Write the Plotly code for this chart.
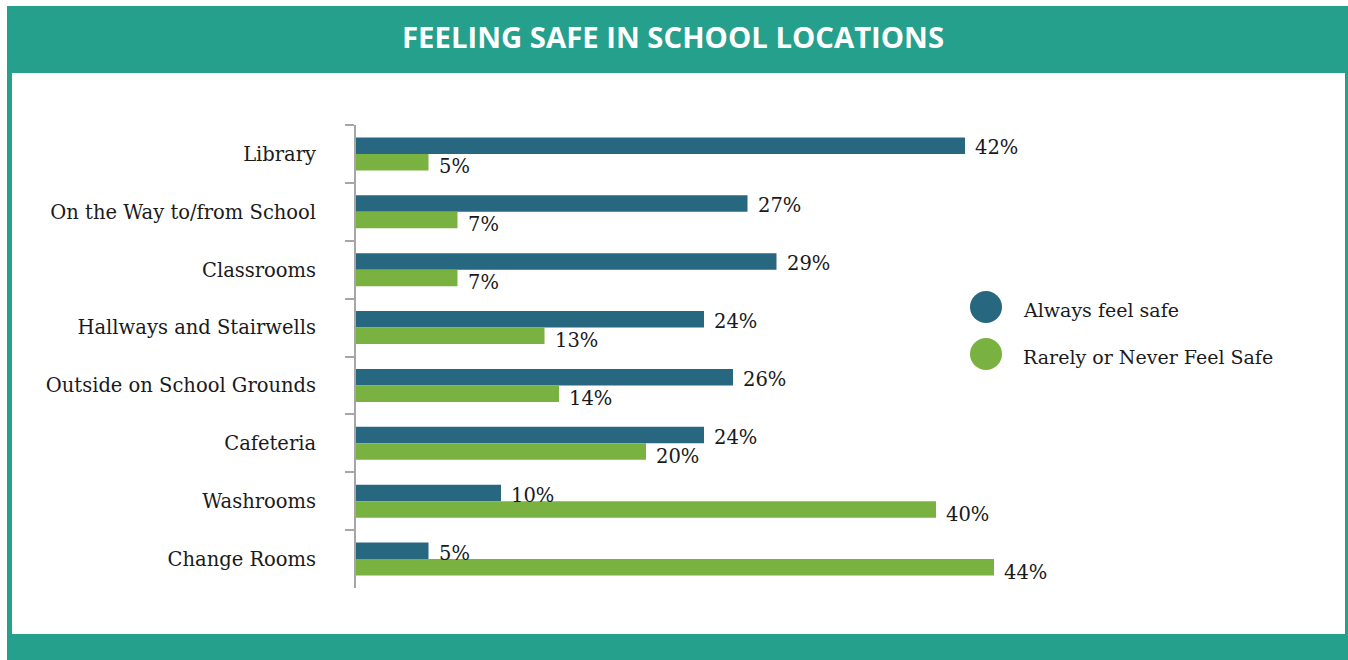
import plotly.graph_objects as go

# Survey data: share of students by how safe they feel in each location
locations = [
    "Library",
    "On the Way to/from School",
    "Classrooms",
    "Hallways and Stairwells",
    "Outside on School Grounds",
    "Cafeteria",
    "Washrooms",
    "Change Rooms",
]
always_safe = [42, 27, 29, 24, 26, 24, 10, 5]
rarely_safe = [5, 7, 7, 13, 14, 20, 40, 44]
series_names = ["Always feel safe", "Rarely or Never Feel Safe"]

TEAL = "#25A08C"
BLUE = "#276880"
GREEN = "#7AB241"
SERIF = "DejaVu Serif"
TEXT = "#1a1a1a"

W, H = 1348, 660
PLOT_L, PLOT_R, PLOT_T, PLOT_B = 356, 1226, 125, 588
X_MAX = 60


def px_x(px):
    return (px - PLOT_L) / (PLOT_R - PLOT_L)


def px_y(py):
    return (PLOT_B - py) / (PLOT_B - PLOT_T)


fig = go.Figure()
fig.add_trace(go.Bar(
    y=locations, x=always_safe, orientation="h", name=series_names[0],
    marker=dict(color=BLUE, line=dict(width=0)), showlegend=False,
    hoverinfo="x+y",
))
fig.add_trace(go.Bar(
    y=locations, x=rarely_safe, orientation="h", name=series_names[1],
    marker=dict(color=GREEN, line=dict(width=0)), showlegend=False,
    hoverinfo="x+y",
))

annotations = []
# value labels just past the end of each bar
for vals, shift in ((always_safe, 6), (rarely_safe, -13)):
    for loc, v in zip(locations, vals):
        annotations.append(dict(
            x=v, y=loc, xref="x", yref="y", text=f"{v}%", showarrow=False,
            xanchor="left", yanchor="middle", xshift=8, yshift=shift,
            font=dict(family=SERIF, size=19.5, color=TEXT),
        ))

# header title
annotations.append(dict(
    x=px_x(W / 2 - 1), y=px_y(37), xref="paper", yref="paper",
    text="<b>FEELING SAFE IN SCHOOL LOCATIONS</b>", showarrow=False,
    xanchor="center", yanchor="middle",
    font=dict(family="Open Sans", size=29.3, color="white"),
))

shapes = [
    # teal frame and white panel
    dict(type="rect", xref="paper", yref="paper", layer="below",
         x0=px_x(7), x1=px_x(W), y0=px_y(6), y1=px_y(H),
         fillcolor=TEAL, line=dict(width=0)),
    dict(type="rect", xref="paper", yref="paper", layer="below",
         x0=px_x(12), x1=px_x(1345), y0=px_y(73), y1=px_y(634),
         fillcolor="white", line=dict(width=0)),
]

# legend: large dots with labels
for name, color, cy in ((series_names[0], BLUE, 307), (series_names[1], GREEN, 354)):
    r = 16
    shapes.append(dict(
        type="circle", xref="paper", yref="paper",
        x0=px_x(986 - r), x1=px_x(986 + r), y0=px_y(cy + r), y1=px_y(cy - r),
        fillcolor=color, line=dict(width=0),
    ))
    annotations.append(dict(
        x=px_x(1021), y=px_y(cy + 3), xref="paper", yref="paper", text=name,
        showarrow=False, xanchor="left", yanchor="middle",
        font=dict(family=SERIF, size=19, color=TEXT),
    ))

fig.update_layout(
    width=W, height=H,
    margin=dict(l=PLOT_L, r=W - PLOT_R, t=PLOT_T, b=H - PLOT_B, pad=0),
    paper_bgcolor="white", plot_bgcolor="rgba(0,0,0,0)",
    barmode="group", bargap=0.43, bargroupgap=0,
    shapes=shapes, annotations=annotations,
    xaxis=dict(range=[0, X_MAX], visible=False, fixedrange=True),
    yaxis=dict(
        autorange="reversed", type="category",
        showline=True, linecolor="#A6A6A6", linewidth=2,
        ticks="outside", tickson="boundaries", ticklen=9, tickwidth=2,
        tickcolor="#A6A6A6", showgrid=False, ticklabelstandoff=34,
        tickfont=dict(family=SERIF, size=19.5, color=TEXT),
        fixedrange=True,
    ),
    showlegend=False,
)

fig.write_html("out.html")
